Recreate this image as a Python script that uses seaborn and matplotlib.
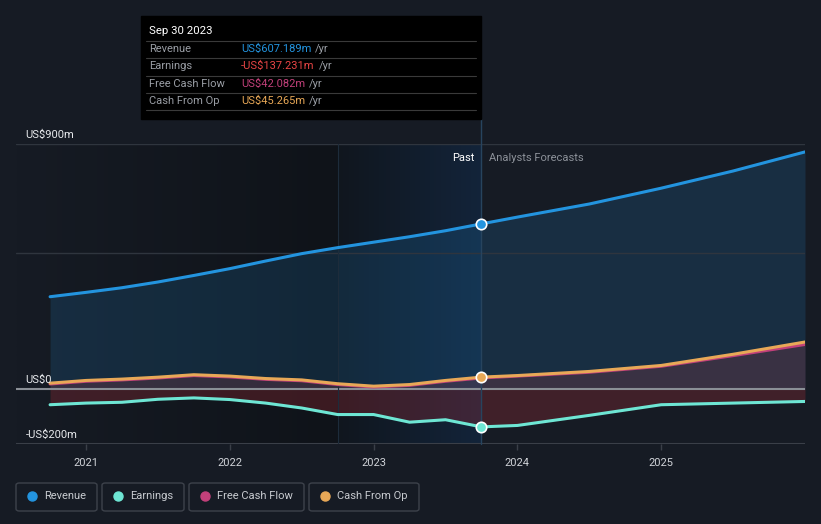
import pandas as pd
import numpy as np
import matplotlib.pyplot as plt
import seaborn as sns
from matplotlib.patches import Rectangle, FancyBboxPatch
from matplotlib.lines import Line2D
from matplotlib.colors import to_rgb
import matplotlib.transforms as mtransforms

# --- data (US$ m) ---
years = [2020.75, 2021.0, 2021.25, 2021.5, 2021.75, 2022.0, 2022.25, 2022.5, 2022.75,
         2023.0, 2023.25, 2023.5, 2023.75, 2024.0, 2024.5, 2025.0, 2025.5, 2026.0]
revenue = [340, 356, 373, 394, 418, 443, 471, 498, 520,
           540, 560, 582, 607.189, 632, 680, 738, 801, 871]
earnings = [-56, -50, -47, -36, -31, -37, -50, -68, -92,
            -92, -120, -111, -137.231, -132, -95, -56, -50, -44]
cash_from_op = [23, 33, 38, 45, 54, 49, 40, 35, 21,
                12, 18, 33, 45.265, 51, 66, 88, 129, 174]
free_cash_flow = [20, 30, 35, 42, 51, 46, 37, 32, 18,
                  9, 15, 30, 42.082, 49, 63, 85, 124, 165]

year_ticks = [2021, 2022, 2023, 2024, 2025]
now = 2023.75

BG = '#161b24'
C_REV = '#2394df'
C_EARN = '#6ee6d4'
C_FCF = '#c2407a'
C_CFO = '#e8a857'

df = pd.DataFrame({'year': years, 'Revenue': revenue, 'Earnings': earnings,
                   'Free Cash Flow': free_cash_flow, 'Cash From Op': cash_from_op})
long = df.melt(id_vars='year', var_name='series', value_name='value')

sns.set_theme(style='dark')
plt.rcParams['font.family'] = ['Roboto', 'DejaVu Sans']

fig = plt.figure(figsize=(8.21, 5.24), dpi=100, facecolor=BG)
ax = fig.add_axes([16 / 821, 80 / 524, 789 / 821, 300 / 524])
ax.set_facecolor(BG)
x_lo, x_hi = 2020.513, 2026.0


# horizontal gradients for the past background
def hgrad(c0, c1, x0, x1, z=0):
    c0, c1 = np.array(to_rgb(c0)), np.array(to_rgb(c1))
    t = np.linspace(0, 1, 256)[None, :, None]
    img = c0 + (c1 - c0) * t
    ax.imshow(img, extent=[x0, x1, -200, 900], aspect='auto', zorder=z, interpolation='bilinear')


hgrad(BG, '#0f1319', x_lo, now - 1)
hgrad('#10161e', '#13243a', now - 1, now)

# fills
ax.fill_between(df['year'], df['Revenue'], 0, color=C_REV, alpha=0.16, lw=0, zorder=1)
ax.fill_between(df['year'], df['Cash From Op'], 0, color='#c2404a', alpha=0.2, lw=0, zorder=1)
ax.fill_between(df['year'], df['Earnings'], 0, color='#c0303a', alpha=0.25, lw=0, zorder=1)

sns.lineplot(data=long, x='year', y='value', hue='series', ax=ax,
             palette={'Revenue': C_REV, 'Earnings': C_EARN,
                      'Free Cash Flow': C_FCF, 'Cash From Op': C_CFO},
             hue_order=['Revenue', 'Earnings', 'Free Cash Flow', 'Cash From Op'],
             linewidth=2.2, legend=False, zorder=3)

# grid lines
for v in [500, 900]:
    ax.axhline(v, color='#2f353e', lw=1, zorder=2)
ax.axhline(0, color='#8a8f96', lw=1.5, zorder=2)
ax.axhline(-200, color='#3a3f48', lw=1.5, zorder=2)
ax.axvline(now - 1, color='#1d2c3b', lw=0.8, zorder=2)
ax.axvline(now, ymin=0, ymax=1.085, color='#27445e', lw=1, clip_on=False, zorder=2)

# markers at current point
for vals, col in [(revenue, C_REV), (earnings, C_EARN), (cash_from_op, C_CFO)]:
    ax.plot(now, vals[years.index(now)], 'o', ms=7.5, color=col, mec='white', mew=1.2, zorder=5)

ax.set_xlim(x_lo, x_hi)
ax.set_ylim(-200, 900)
ax.set_xticks(year_ticks)
ax.set_xticklabels([str(y) for y in year_ticks], color='#d0d3d8', fontsize=8)
ax.set_yticks([])
ax.tick_params(axis='x', length=4, width=1, color='#3a3f48', pad=6, bottom=True)
ax.set_xlabel('')
ax.set_ylabel('')
for s in ax.spines.values():
    s.set_visible(False)
ax.grid(False)

# y labels
trans = mtransforms.blended_transform_factory(ax.transAxes, ax.transData)
ax.text(0.012, 915, 'US$900m', transform=trans, color='#e8eaed', fontsize=8, va='bottom')
ax.text(0.012, 15, 'US$0', transform=trans, color='#e8eaed', fontsize=8, va='bottom')
ax.text(0.012, -185, '-US$200m', transform=trans, color='#e8eaed', fontsize=8, va='bottom')

ax.text(now - 0.05, 850, 'Past', color='#ffffff', fontsize=8, ha='right', va='center', zorder=6)
ax.text(now + 0.05, 850, 'Analysts Forecasts', color='#8c9199', fontsize=8, ha='left', va='center', zorder=6)


# tooltip box
def fx(px):
    return px / 821


def fy(py):
    return 1 - py / 524


fig.add_artist(Rectangle((fx(141), fy(119)), fx(481) - fx(141), fy(16) - fy(119),
                         transform=fig.transFigure, color='black', zorder=10))
fig.text(fx(149), fy(31), 'Sep 30 2023', color='white', fontsize=8.2, va='center', zorder=11)
rows = [('Revenue', 'US$607.189m', C_REV, 49),
        ('Earnings', '-US$137.231m', '#e84545', 66),
        ('Free Cash Flow', 'US$42.082m', C_FCF, 84),
        ('Cash From Op', 'US$45.265m', C_CFO, 101)]
renderer = fig.canvas.get_renderer()
for name, val, col, py in rows:
    fig.add_artist(Line2D([fx(146), fx(476)], [fy(py - 8.5), fy(py - 8.5)],
                          transform=fig.transFigure, color='#3a3a3a', lw=0.8, zorder=11))
    fig.text(fx(149), fy(py), name, color='#9a9ea5', fontsize=8, va='center', zorder=11)
    t = fig.text(fx(241), fy(py), val, color=col, fontsize=8, va='center', zorder=11)
    bb = t.get_window_extent(renderer)
    fig.text((bb.x1 + 4) / 821, fy(py), '/yr', color='#9a9ea5', fontsize=8, va='center', zorder=11)
fig.add_artist(Line2D([fx(146), fx(476)], [fy(110), fy(110)],
                      transform=fig.transFigure, color='#3a3a3a', lw=0.8, zorder=11))

# legend boxes
legend_items = [('Revenue', C_REV, 16, 97), ('Earnings', C_EARN, 102, 184),
                ('Free Cash Flow', C_FCF, 189, 304), ('Cash From Op', C_CFO, 309, 419)]
for name, col, x0, x1 in legend_items:
    fig.add_artist(FancyBboxPatch((fx(x0), fy(511)), fx(x1) - fx(x0), fy(483) - fy(511),
                                  boxstyle='round,pad=0,rounding_size=0.004',
                                  transform=fig.transFigure, fc=BG, ec='#3d424b', lw=1))
    fig.add_artist(Line2D([fx(x0 + 16)], [fy(496)], marker='o', ms=6.5, color=col,
                          transform=fig.transFigure, lw=0))
    fig.text(fx(x0 + 28), fy(496), name, color='#c8cbd0', fontsize=8, va='center')

fig.savefig('out.png', dpi=100, facecolor=BG)
